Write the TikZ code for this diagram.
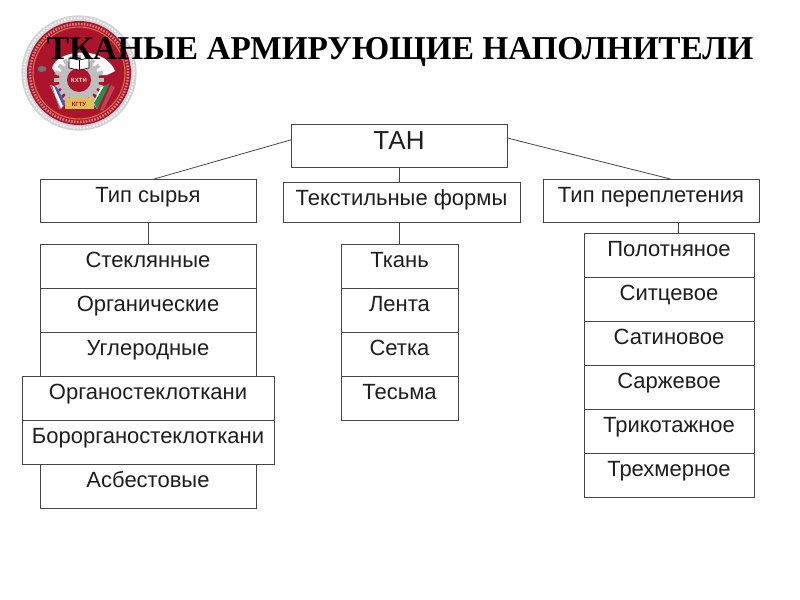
\documentclass[tikz,border=0pt]{standalone}
\usepackage{fontspec}
\setmainfont{Liberation Sans}
\newfontfamily\titlefont{Liberation Serif}
\usetikzlibrary{positioning}
\definecolor{boxline}{RGB}{70, 70, 70}
\definecolor{boxtext}{RGB}{30, 30, 30}
\definecolor{sealred}{RGB}{172, 20, 45}
\definecolor{sealring}{RGB}{222, 120, 50}
\definecolor{sealsilver}{RGB}{190, 190, 190}
\definecolor{sealgold}{RGB}{226, 190, 90}
\definecolor{sealgreen}{RGB}{40, 140, 70}
\definecolor{sealblue}{RGB}{70, 90, 170}
\tikzset{
  cell/.style={draw=boxline, fill=white, line width=0.6pt, inner ysep=0pt, inner xsep=0pt, outer sep=0pt,
    text=boxtext, font=\fontsize{16.5pt}{19pt}\selectfont,
    minimum width=#1*0.75pt, text height=17.25pt, text depth=15.75pt},
  link/.style={draw=boxline, line width=0.6pt},
}
\begin{document}
\begin{tikzpicture}[x=0.75pt, y=-0.75pt]
  \useasboundingbox (0,0) rectangle (800,600);
  % seal
  \begin{scope}[shift={(79,73)}]
    \filldraw[sealsilver!70, fill=sealsilver!60, line width=1pt] (0,0) circle (57*0.75pt);
    \draw[white, line width=1.2pt, dash pattern=on 1pt off 1.5pt] (0,0) circle (55*0.75pt);
    \fill[sealred] (0,0) circle (52*0.75pt);
    \draw[sealred!55!white, line width=2pt, dash pattern=on 1.2pt off 1pt] (0,0) circle (49*0.75pt);
    \draw[sealring, line width=0.8pt] (0,0) circle (46*0.75pt);
    \fill[white] (-27,-5) .. controls (-24,-17) and (-5,-22) .. (10,-20)
        .. controls (22,-18) and (32,-12) .. (36,-2) -- (28,2) -- (-22,2) -- cycle;
    \fill[sealsilver!60!black] (-37,-4) ellipse (4.5*0.75pt and 3*0.75pt);
    \foreach \ang in {0,18,...,342}
      \fill[sealsilver, shift={(0,7)}, rotate=\ang] (-2,0) rectangle (2,-25);
    \fill[sealsilver] (0,7) circle (20*0.75pt);
    \fill[sealred] (0,7) circle (12*0.75pt);
    \filldraw[black, fill=white, line width=0.5pt] (-10,-15) -- (0,-13) -- (10,-15) -- (10,-5) -- (0,-3) -- (-10,-5) -- cycle;
    \draw[black, line width=0.4pt] (0,-13) -- (0,-3);
    % flags
    \fill[white] (-29,12) -- (-22,14) -- (-14,30) -- (-18,36) -- cycle;
    \fill[sealblue] (-25,13) -- (-22,14) -- (-14,30) -- (-16,33) -- cycle;
    \fill[sealred!70!white] (-29,12) -- (-27,12) -- (-20,36) -- (-18,36) -- cycle;
    \fill[white] (29,12) -- (22,14) -- (14,30) -- (18,36) -- cycle;
    \fill[sealgreen] (31,10) -- (25,13) -- (15,30) -- (18,36) -- cycle;
    \fill[sealred!80!white] (36,14) -- (32,12) -- (21,37) -- (24,38) -- cycle;
    \fill[sealgold] (-14,25) -- (15,25) -- (15,36) -- (-14,36) -- cycle;
    \node[text=sealgold!40!white, font=\fontsize{4.5pt}{5pt}\selectfont\bfseries, inner sep=0pt] (sealname) at (0,7) {КХТИ};
    \node[text=sealred, font=\fontsize{4.5pt}{5pt}\selectfont\bfseries, inner sep=0pt] (sealbanner) at (0,31) {КГТУ};
  \end{scope}
  \node[anchor=base, inner sep=0pt, font=\titlefont\bfseries\fontsize{25pt}{28pt}\selectfont] (title) at (400,59) {ТКАНЫЕ АРМИРУЮЩИЕ НАПОЛНИТЕЛИ};
  % top row
  \node[cell=216, text height=18.75pt, text depth=13.5pt, font=\fontsize{19.5pt}{22pt}\selectfont] (tan) at (399,145.5) {ТАН};
  \node[cell=216, text depth=15pt] (raw) at (148,200.5) {Тип сырья};
  \node[cell=237, text depth=12.75pt] (form) at (401.5,202) {Текстильные формы};
  \node[cell=216, text depth=15pt] (weave) at (651,200.5) {Тип переплетения};
  % raw materials
  \node[cell=216] (glass) at (148,266) {Стеклянные};
  \node[cell=216, below=0pt of glass] (organic) {Органические};
  \node[cell=216, below=0pt of organic] (carbon) {Углеродные};
  \node[cell=252, below=0pt of carbon] (orgglass) {Органостеклоткани};
  \node[cell=252, below=0pt of orgglass] (bororg) {Борорганостеклоткани};
  \node[cell=216, below=0pt of bororg] (asbestos) {Асбестовые};
  % textile forms
  \node[cell=117] (fabric) at (399.5,266) {Ткань};
  \node[cell=117, below=0pt of fabric] (tape) {Лента};
  \node[cell=117, below=0pt of tape] (mesh) {Сетка};
  \node[cell=117, below=0pt of mesh] (braid) {Тесьма};
  % weaves
  \node[cell=170] (plain) at (669,255) {Полотняное};
  \node[cell=170, below=0pt of plain] (chintz) {Ситцевое};
  \node[cell=170, below=0pt of chintz] (satin) {Сатиновое};
  \node[cell=170, below=0pt of satin] (twill) {Саржевое};
  \node[cell=170, below=0pt of twill] (knit) {Трикотажное};
  \node[cell=170, below=0pt of knit] (solid) {Трехмерное};
  % links
  \draw[link] (tan.177) -- (raw.74);
  \draw[link] (tan.4) -- (weave.48);
  \draw[link] (tan.south) -- (tan.south |- form.north);
  \draw[link] (fabric.north |- form.south) -- (fabric.north);
  \draw[link] (raw.south) -- (glass.north);
  \draw[link] (weave.-38.5) -- (plain.67.7);
\end{tikzpicture}
\end{document}
